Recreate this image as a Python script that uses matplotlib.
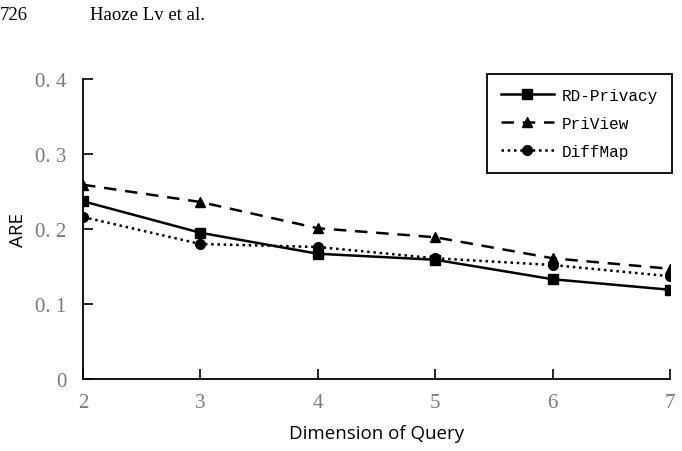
import matplotlib
matplotlib.use("Agg")
import matplotlib.pyplot as plt

dims = [2, 3, 4, 5, 6, 7]
rd_privacy = [0.237, 0.195, 0.167, 0.159, 0.133, 0.119]
priview = [0.259, 0.236, 0.201, 0.189, 0.161, 0.147]
diffmap = [0.216, 0.180, 0.176, 0.161, 0.152, 0.137]
yticks = [0, 0.1, 0.2, 0.3, 0.4]
ytick_labels = ["0", "0. 1", "0. 2", "0. 3", "0. 4"]

fig = plt.figure(figsize=(6.82, 4.52), dpi=100)
ax = fig.add_axes([83/682, 72/452, (670-83)/682, 300/452])

ax.plot(dims, rd_privacy, color="black", lw=1.8, ls="-", marker="s", ms=7, label="RD-Privacy")
ax.plot(dims, priview, color="black", lw=1.8, ls=(0, (5, 3.5)), marker="^", ms=7, label="PriView")
ax.plot(dims, diffmap, color="black", lw=1.8, ls=(0, (1, 1.5)), marker="o", ms=7, label="DiffMap")

ax.set_xlim(2, 7)
ax.set_ylim(0, 0.4)
ax.set_xticks(dims)
ax.set_yticks(yticks)
ax.set_yticklabels(ytick_labels)
ax.spines["top"].set_visible(False)
ax.spines["right"].set_visible(False)
ax.spines["left"].set_linewidth(1.3)
ax.spines["bottom"].set_linewidth(1.3)
ax.tick_params(direction="in", length=7, width=1.2, labelsize=15, labelcolor="#7a7a7a")
ax.tick_params(axis="y", pad=12)
ax.tick_params(axis="x", pad=10)
for t in ax.get_xticklabels() + ax.get_yticklabels():
    t.set_fontfamily("Liberation Serif")
ax.set_xlabel("Dimension of Query", fontsize=13.5, fontfamily="Open Sans", labelpad=9)
ax.set_ylabel("ARE", fontsize=13.5, fontfamily="Open Sans", labelpad=6)

leg = ax.legend(loc="upper right", bbox_to_anchor=(1.004, 1.018), prop={"family": "Liberation Mono", "size": 11.5},
                frameon=True, fancybox=False, edgecolor="black", framealpha=1, handlelength=3.3,
                borderpad=0.9, labelspacing=0.8, handletextpad=0.5, borderaxespad=0.0)
leg.get_frame().set_linewidth(1.3)

fig.text(0.0, 0.985, "726", fontsize=13.5, fontfamily="Liberation Serif", va="top", ha="left")
fig.text(90/682, 0.985, "Haoze Lv et al.", fontsize=13.5, fontfamily="Liberation Serif", va="top", ha="left")

fig.savefig("out.png", dpi=100)
